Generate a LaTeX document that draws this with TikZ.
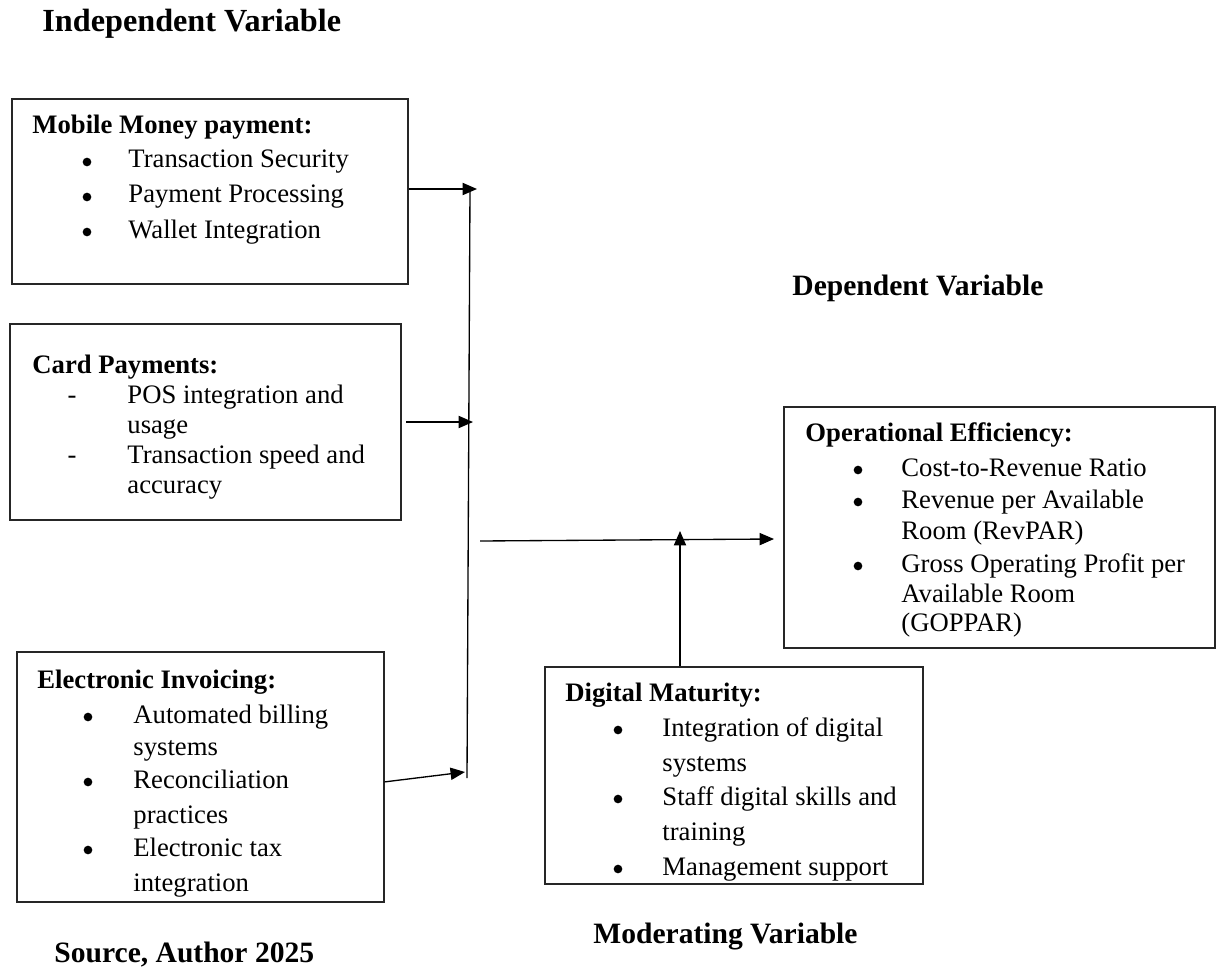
\documentclass[tikz,border=0pt]{standalone}
\usepackage{fontspec}
\setmainfont{Liberation Serif}
\usetikzlibrary{arrows.meta,fit}
\tikzset{
  % framed box round one group of measures
  vbox/.style   = {draw=black!85, line width=0.6pt, inner sep=0pt},
  % variable captions outside the boxes
  vtitle/.style = {font=\fontsize{13.3}{16}\selectfont\bfseries, anchor=base west, inner sep=0pt},
  % box title
  btitle/.style = {font=\fontsize{12}{14}\selectfont\bfseries, anchor=base west, inner sep=0pt},
  % one printed line of a list item
  iline/.style  = {font=\fontsize{12}{14}\selectfont, anchor=base west, inner sep=0pt},
  % list markers
  ibullet/.style = {circle, fill=black, inner sep=0pt, minimum size=3.9pt},
  idash/.style  = {font=\fontsize{12}{14}\selectfont, anchor=base, inner sep=0pt},
  % connectors
  conn/.style   = {line width=0.6pt},
  aconn/.style  = {conn, -{Triangle[length=6.5pt,width=5.5pt]}},
}

\begin{document}
\begin{tikzpicture}[x=0.45pt,y=-0.45pt]
  \useasboundingbox (0,0) rectangle (1217,973);

  % captions
  \node[vtitle, font=\fontsize{14.5}{17}\selectfont\bfseries] (indep) at (42,32) {Independent Variable};
  \node[vtitle] (dep) at (792,295) {Dependent Variable};
  \node[vtitle] (moder) at (593,943) {Moderating Variable};
  \node[vtitle] (src) at (54,962) {Source, Author 2025};

  % mobile money
  \node[vbox, fit={(12,99) (408,284)}] (mm) {};
  \node[btitle] (mmh) at (32,133) {Mobile Money payment:};
  \node[ibullet] (mmb1) at (87,162) {};
  \node[ibullet] (mmb2) at (87,197) {};
  \node[ibullet] (mmb3) at (87,232) {};
  \node[iline] (mm1) at (128,168) {Transaction Security};
  \node[iline] (mm2) at (128,203) {Payment Processing};
  \node[iline] (mm3) at (128,238) {Wallet Integration};

  % card payments
  \node[vbox, fit={(10,324) (401,520)}] (cp) {};
  \node[btitle] (cph) at (32,373) {Card Payments:};
  \node[idash] (cpd1) at (72,403) {-};
  \node[idash] (cpd2) at (72,463) {-};
  \node[iline] (cp1) at (127,403) {POS integration and};
  \node[iline] (cp2) at (127,433) {usage};
  \node[iline] (cp3) at (127,463) {Transaction speed and};
  \node[iline] (cp4) at (127,493) {accuracy};

  % electronic invoicing
  \node[vbox, fit={(17,652) (384,902)}] (ei) {};
  \node[btitle] (eih) at (37,688) {Electronic Invoicing:};
  \node[ibullet] (eib1) at (88,717) {};
  \node[ibullet] (eib2) at (88,782) {};
  \node[ibullet] (eib3) at (88,850) {};
  \node[iline] (ei1) at (133,723) {Automated billing};
  \node[iline] (ei2) at (133,755) {systems};
  \node[iline] (ei3) at (133,788) {Reconciliation};
  \node[iline] (ei4) at (133,823) {practices};
  \node[iline] (ei5) at (133,856) {Electronic tax};
  \node[iline] (ei6) at (133,891) {integration};

  % operational efficiency
  \node[vbox, fit={(784,407) (1215,648)}] (oe) {};
  \node[btitle] (oeh) at (805,441) {Operational Efficiency:};
  \node[ibullet] (oeb1) at (858,470) {};
  \node[ibullet] (oeb2) at (858,502) {};
  \node[ibullet] (oeb3) at (858,566) {};
  \node[iline] (oe1) at (901,476) {Cost-to-Revenue Ratio};
  \node[iline] (oe2) at (901,508) {Revenue per Available};
  \node[iline] (oe3) at (901,539) {Room (RevPAR)};
  \node[iline] (oe4) at (901,572) {Gross Operating Profit per};
  \node[iline] (oe5) at (901,602) {Available Room};
  \node[iline] (oe6) at (901,631) {(GOPPAR)};

  % digital maturity
  \node[vbox, fit={(545,667) (923,884)}] (dm) {};
  \node[btitle] (dmh) at (565,701) {Digital Maturity:};
  \node[ibullet] (dmb1) at (618,730) {};
  \node[ibullet] (dmb2) at (618,799) {};
  \node[ibullet] (dmb3) at (618,869) {};
  \node[iline] (dm1) at (662,736) {Integration of digital};
  \node[iline] (dm2) at (662,771) {systems};
  \node[iline] (dm3) at (662,805) {Staff digital skills and};
  \node[iline] (dm4) at (662,840) {training};
  \node[iline] (dm5) at (662,875) {Management support};

  % connectors
  \coordinate (jtop) at (470,189);
  \coordinate (jbot) at (467,778);
  \coordinate (mmtip) at (477,189);
  \coordinate (cptip) at (473,422);
  \coordinate (eitip) at (465,772);
  \coordinate (hstart) at (480,541);
  \coordinate (htip) at (774,539);
  \coordinate (dmtip) at (680,531);
  \draw[conn] (jtop) -- (jbot);
  \draw[aconn] (mm.east |- mmtip) -- (mmtip);
  \draw[aconn] ([xshift=2pt]cp.east) -- (cptip);
  \draw[aconn] ([yshift=-2.2pt]ei.east) -- (eitip);
  \draw[aconn] (hstart) -- (htip);
  \draw[aconn] (dmtip |- dm.north) -- (dmtip);
\end{tikzpicture}
\end{document}
